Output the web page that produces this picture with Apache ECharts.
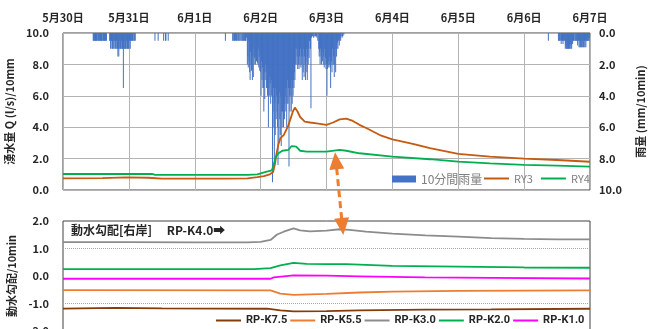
<!DOCTYPE html>
<html><head><meta charset="utf-8">
<script src="https://cdn.jsdelivr.net/npm/echarts@6/dist/echarts.min.js"></script>
<style>html,body{margin:0;padding:0;background:#fff}#c{width:662px;height:329px}</style>
</head><body><div id="c"></div>
<script>
// ---- tick labels (x in days since 5/30 00:00) ----
const dayLabels = ['5月30日','5月31日','6月1日','6月2日','6月3日','6月4日','6月5日','6月6日','6月7日'];

// ---- 湧水量 RY3 / RY4 (day, l/s) ----
const ry3X = [0,0.6,0.95,1.3,1.5,2.0,2.5,2.8,2.95,3.05,3.14,3.19,3.22,3.24,3.27,3.3,3.35,3.42,3.49,3.52,3.56,3.6,3.67,3.75,3.85,4.0,4.1,4.2,4.3,4.4,4.5,4.61,4.81,5.0,5.31,5.57,6.0,6.48,7.0,7.5,8.0];
const ry3Y = [0.74,0.76,0.8,0.78,0.72,0.72,0.72,0.74,0.82,0.88,1.0,1.15,1.7,2.3,2.9,3.3,3.5,4.1,5.0,5.25,5.0,4.65,4.36,4.3,4.25,4.15,4.3,4.5,4.55,4.4,4.15,3.93,3.5,3.23,2.94,2.66,2.3,2.12,2.0,1.91,1.8];
const ry4X = [0,1.35,1.4,2.8,2.95,3.08,3.17,3.19,3.23,3.27,3.33,3.42,3.47,3.5,3.54,3.6,3.7,4.0,4.2,4.3,4.5,5.0,5.57,6.0,6.48,7.0,7.5,8.0];
const ry4Y = [1.02,1.02,0.96,0.96,1.0,1.15,1.25,1.5,2.1,2.34,2.5,2.55,2.8,2.85,2.76,2.5,2.45,2.45,2.55,2.5,2.34,2.13,1.96,1.81,1.7,1.6,1.55,1.49];

// ---- 10分間雨量: segments of consecutive 10-minute values (mm) ----
const rainStarts = ['5/30 11:00','5/30 17:00','5/31 09:30','5/31 10:40','5/31 12:40','5/31 13:20','5/31 14:20','6/1 11:10','6/1 19:00','6/6 08:50','6/6 12:30'];
const rainValues = [
  [0.5,0.5,0,0.5,0.5,0.5, 0.5,0.5,0.5,0,0.5,0.5, 0.5,0,0.5,0.5,0.5,0.5, 0.5,0.5,0,0.5,0.5,0.5, 0.5,0.5,0.5,0.5,0,0.5],
  [0.5,0.5,1.0,0.5,0.5,1.0, 1.0,0.5,1.0,0.5,1.0,0.5, 0.5,1.0,1.0,0.5,1.0,1.0, 1.5,1.0,1.5,1.0,0.5,1.0,
   1.0,1.0,0.5,1.0,1.0,1.0, 3.5,1.0,1.0,0.5,1.0,1.0, 1.0,0.5,1.0,1.0,0.5,1.0, 1.0,0.5,0.5,1.0,0.5,0.5,
   0.5,0,0.5,0.5,0,0.5, 0.5,0,0.5,0,0],
  [0.5],[0.5],[0.5],[0.5,0.5],[0.5],
  [0.5,0,0,0,0,0,0,0,0,0,0,0,0,0,0,0,
   0.5,0.5,0,0.5,0.5,0,0.5,0,0.5,0.5,0,0.5,0,0.5,0.5,0,
   0.5,0,0.5,0,0.5,0.5,0,0.5,0.5,0,0.5,0.5,0.5,0.5,0.3],
  [0,2.0,1.5,2.2,0.5,1.8, 2.5,3.0,1.2,2.0,2.4,1.0, 3.0,1.5,2.8,1.0,2.0,1.6, 1.5,2.0,1.2,1.8,0.8,1.9,
   2.0,1.0,2.2,1.5,2.4,1.2, 2.5,4.0,1.8,3.0,2.2,3.5, 3.5,5.0,2.5,4.2,3.0,2.0, 2.5,3.5,2.0,4.0,3.0,6.0,
   3.5,4.0,2.8,3.2,4.5,3.0, 4.0,3.0,9.5,5.0,3.5,6.0, 8.1,4.5,6.5,3.5,5.5,4.0, 5.0,6.0,8.4,4.5,7.0,3.8,
   5.5,6.5,4.0,7.2,5.0,6.0, 5.0,4.0,6.0,3.5,5.5,4.5, 4.0,5.0,3.5,6.0,4.5,3.0, 4.5,3.5,8.5,4.0,5.0,3.5,
   4.0,5.0,3.0,4.5,3.5,4.0, 3.0,3.5,2.5,3.0,2.0,1.0, 1.0,2.0,1.5,2.3,1.0,2.0, 2.3,1.5,2.0,1.0,2.2,1.5,
   2.0,3.0,1.5,2.5,1.0,2.8, 1.5,2.0,3.0,1.8,1.0,2.5, 3.0,1.5,2.0,1.0,1.6,0.5, 0.5,1.0,4.8,0.3,0.2,0.2,
   0.2,0,0.3,0.2,0,0.2, 0.2,0,0.2,0.3,0,0.5, 0,1.0,1.5,1.2,2.0,1.0, 1.5,2.0,1.0,1.8,1.2,2.0,
   1.5,2.2,1.0,2.0,1.6,2.3, 2.0,4.0,2.3,2.0,1.8,2.2, 2.0,1.5,2.2,3.5,2.0,1.8, 2.5,1.0,2.0,1.5,2.0,2.8,
   2.0,1.0,2.5,0.5,1.5,1.0, 0.6,1.0,0.5,0.3,0.8,0.5, 0.3,0.5,0.2,0,0.3,0.2, 0.2,0,0.1,0,0,0],
  [0.5],
  [0.5,0,0.5,0.5,0,0.5,0.7,0.5,0.5, 0.5,0.7,0.5,0,0.5,0.5, 1.0,0.8,1.0,1.0,0.7,1.0, 1.0,1.0,0.8,1.0,1.0,0.7,
   1.0,0.8,1.0,0.5,0.7,0.5, 0.5,0.5,0,0.5,0.5,0, 0.5,0.5,0.5,0.8,0.5,0.5, 0.9,0.5,0.9,0.9,0.5,0.9,
   0.9,0.5,0.9,0.5,0.9,0.9, 0.5,0.9,0.5,0.9,0.5,0.5, 0.5,0.5,0.3,0.5,0.5,0.3]
];

// ---- 動水勾配 (day, value) ----
const k30X = [0,1,2,2.8,3.0,3.15,3.25,3.35,3.5,3.6,3.75,4.0,4.2,4.35,4.6,5.0,5.5,6.0,6.5,7.0,7.5,8.0];
const k30Y = [1.23,1.23,1.22,1.22,1.24,1.31,1.51,1.61,1.73,1.66,1.62,1.65,1.70,1.68,1.61,1.54,1.48,1.43,1.38,1.35,1.33,1.33];
const k20X = [0,2.9,3.15,3.3,3.5,3.7,4.0,4.3,5.0,6.0,7.0,8.0];
const k20Y = [0.25,0.25,0.29,0.39,0.48,0.44,0.43,0.43,0.37,0.34,0.31,0.30];
const k10X = [0,3.15,3.2,3.5,4.0,4.5,5.5,6.5,8.0];
const k10Y = [-0.10,-0.10,-0.05,0.02,0.01,-0.01,-0.05,-0.07,-0.09];
const k55X = [0,3.15,3.3,3.5,4.0,4.5,5.0,6.0,8.0];
const k55Y = [-0.51,-0.52,-0.64,-0.69,-0.65,-0.60,-0.57,-0.54,-0.52];
const k75X = [0,0.8,1.5,3.1,3.3,3.5,4.0,4.5,5.5,6.5,8.0];
const k75Y = [-1.19,-1.16,-1.18,-1.19,-1.25,-1.29,-1.28,-1.25,-1.22,-1.21,-1.19];
const refLevels = [1, -1];

// ---- annotation arrow anchors (day, value) ----
const arrowTop = [4.13, 2.4];      // on 湧水量 axis
const arrowBottom = [4.255, 1.49]; // on 動水勾配 axis

function toDay(s){
  const [md, hm] = s.split(' ');
  const [m, d] = md.split('/').map(Number);
  const [h, mi] = hm.split(':').map(Number);
  const di = m === 5 ? d - 30 : d + 1;
  return di + h / 24 + mi / 1440;
}
const rainData = [];
rainStarts.forEach((s, k) => {
  const t0 = toDay(s);
  rainValues[k].forEach((v, i) => { if (v > 0) rainData.push([t0 + i / 144, v]); });
});
const zip = (xs, ys) => xs.map((x, i) => [x, ys[i]]);

const FONT = '"Noto Sans CJK JP","Noto Sans",sans-serif';
const lab = {fontSize: 11, fontWeight: 'bold', color: '#262626', fontFamily: FONT};
const nameStyle = {fontSize: 11, fontWeight: 'bold', color: '#262626', fontFamily: FONT};
const gridLine = {show: true, lineStyle: {color: '#b4b4b4', width: 1}};

const chart = echarts.init(document.getElementById('c'), null, {renderer: 'canvas'});
const lineS = (name, data, color, xi, yi, extra) => Object.assign({
  name, type: 'line', data, xAxisIndex: xi, yAxisIndex: yi, symbol: 'none',
  lineStyle: {color, width: 1.8}, itemStyle: {color}, silent: true
}, extra || {});

chart.setOption({
  animation: false,
  backgroundColor: '#fff',
  textStyle: {fontFamily: FONT},
  title: {text: '動水勾配[右岸]\u3000 RP-K4.0➡', left: 71, top: 224, padding: 0,
    textStyle: {fontSize: 12, fontWeight: 'bold', color: '#262626', fontFamily: FONT}},
  grid: [
    {left: 63, top: 33, width: 527, height: 157, show: true, borderColor: '#404040', borderWidth: 1,
     outerBoundsMode: 'none', containLabel: false},
    {left: 63, top: 221, width: 527, height: 110, show: true, borderColor: '#404040', borderWidth: 1,
     outerBoundsMode: 'none', containLabel: false}
  ],
  legend: [
    {data: [{name: '10分間雨量', icon: 'rect'}], left: 392, top: 173, padding: 0,
     itemWidth: 24, itemHeight: 7, itemGap: 5,
     textStyle: {color: '#808080', fontSize: 12, fontFamily: FONT}},
    {data: [{name: 'RY3', icon: 'rect'}, {name: 'RY4', icon: 'rect'}], left: 484, top: 173, padding: 0,
     itemWidth: 25, itemHeight: 2, itemGap: 8, itemStyle: {borderWidth: 0},
     textStyle: {color: '#808080', fontSize: 11, fontFamily: FONT}},
    {data: ['RP-K7.5', 'RP-K5.5', 'RP-K3.0', 'RP-K2.0', 'RP-K1.0'].map(n => ({name: n, icon: 'rect'})),
     left: 216, top: 315, padding: 0,
     itemWidth: 25, itemHeight: 2, itemGap: 3, itemStyle: {borderWidth: 0},
     textStyle: {color: '#262626', fontSize: 11, fontWeight: 'bold', fontFamily: 'Roboto, "Noto Sans", sans-serif'}}
  ],
  xAxis: [
    {gridIndex: 0, type: 'value', min: 0, max: 8, interval: 1, position: 'top',
     axisLine: {show: false}, axisTick: {show: false},
     axisLabel: Object.assign({formatter: v => dayLabels[v], margin: 10}, lab),
     splitLine: gridLine},
    {gridIndex: 1, type: 'value', min: 0, max: 8, interval: 1, show: false, splitLine: {show: false}}
  ],
  yAxis: [
    {gridIndex: 0, type: 'value', min: 0, max: 10, interval: 2, position: 'left',
     name: '湧水量 Q (l/s)/10mm', nameLocation: 'middle', nameGap: 45, nameTextStyle: nameStyle,
     axisLine: {show: false}, axisTick: {show: false},
     axisLabel: Object.assign({formatter: v => v.toFixed(1), margin: 14}, lab),
     splitLine: gridLine},
    {gridIndex: 0, type: 'value', min: 0, max: 10, interval: 2, position: 'right', inverse: true,
     name: '雨量 (mm/10min)', nameLocation: 'middle', nameGap: 45, nameTextStyle: nameStyle,
     axisLine: {show: false}, axisTick: {show: false},
     axisLabel: Object.assign({formatter: v => v.toFixed(1), margin: 9}, lab),
     splitLine: {show: false}},
    {gridIndex: 1, type: 'value', min: -2, max: 2, interval: 1, position: 'left',
     name: '動水勾配/10min', nameLocation: 'middle', nameGap: 45, nameTextStyle: nameStyle,
     axisLine: {show: false}, axisTick: {show: false},
     axisLabel: Object.assign({formatter: v => v.toFixed(1), margin: 14}, lab),
     splitLine: {show: false}}
  ],
  series: [
    {name: '10分間雨量', type: 'bar', data: rainData, xAxisIndex: 0, yAxisIndex: 1,
     barWidth: 1, itemStyle: {color: '#4472c4'}, silent: true, large: false},
    lineS('RY3', zip(ry3X, ry3Y), '#c55a11', 0, 0),
    lineS('RY4', zip(ry4X, ry4Y), '#00b050', 0, 0),
    lineS('RP-K7.5', zip(k75X, k75Y), '#843c0c', 1, 2, {
      markLine: {silent: true, symbol: 'none', label: {show: false},
        lineStyle: {color: '#a6a6a6', type: 'dotted', width: 1},
        data: refLevels.map(v => ({yAxis: v}))}}),
    lineS('RP-K5.5', zip(k55X, k55Y), '#ed7d31', 1, 2),
    lineS('RP-K3.0', zip(k30X, k30Y), '#8c8c8c', 1, 2),
    lineS('RP-K2.0', zip(k20X, k20Y), '#00b050', 1, 2),
    lineS('RP-K1.0', zip(k10X, k10Y), '#ff00ff', 1, 2)
  ]
});

// double-headed dashed arrow between the two panels
const pA = chart.convertToPixel({xAxisIndex: 0, yAxisIndex: 0}, arrowTop);
const pB = chart.convertToPixel({xAxisIndex: 1, yAxisIndex: 2}, arrowBottom);
const dx = pB[0] - pA[0], dy = pB[1] - pA[1];
const L = Math.hypot(dx, dy), ux = dx / L, uy = dy / L, nx = -uy, ny = ux;
const HL = 17, HW = 7.5, AC = '#ed7d31';
const head = (tip, dir) => {
  const bx = tip[0] + dir * ux * HL, by = tip[1] + dir * uy * HL;
  return [[tip[0], tip[1]], [bx + nx * HW, by + ny * HW], [bx - nx * HW, by - ny * HW]];
};
chart.setOption({graphic: [
  {type: 'line', silent: true, z: 100,
   shape: {x1: pA[0] + ux * (HL - 1), y1: pA[1] + uy * (HL - 1), x2: pB[0] - ux * (HL - 1), y2: pB[1] - uy * (HL - 1)},
   style: {stroke: AC, lineWidth: 3, lineDash: [7, 4]}},
  {type: 'polygon', silent: true, z: 100, shape: {points: head(pA, 1)}, style: {fill: AC}},
  {type: 'polygon', silent: true, z: 100, shape: {points: head(pB, -1)}, style: {fill: AC}}
]});
</script></body></html>
